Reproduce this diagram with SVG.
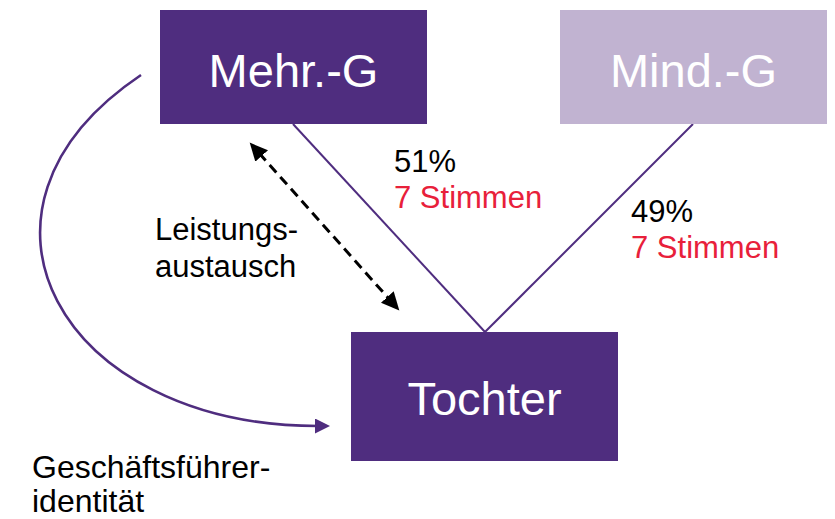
<svg xmlns="http://www.w3.org/2000/svg" width="835" height="519" viewBox="0 0 835 519">
  <style>
    .box { fill: #4F2D7F; }
    .box-light { fill: #C1B3D1; }
    .node-label { font-family: "Liberation Sans", Arial, sans-serif; font-size: 47px; fill: #FFFFFF; text-anchor: middle; }
    .label { font-family: "Liberation Sans", Arial, sans-serif; font-size: 31px; fill: #000000; }
    .votes { fill: #E8203A; }
    .link { stroke: #4F2D7F; stroke-width: 2; fill: none; }
    .flow { stroke: #4F2D7F; stroke-width: 2.6; fill: none; }
    .exchange { stroke: #000000; stroke-width: 3; stroke-dasharray: 10 6; fill: none; }
  </style>
  <defs>
    <marker id="purple-head" markerUnits="userSpaceOnUse" markerWidth="16" markerHeight="16" refX="3" refY="7.5" orient="auto">
      <path d="M0,0 L15,7.5 L0,15 Z" fill="#4F2D7F"/>
    </marker>
    <marker id="black-head" markerUnits="userSpaceOnUse" markerWidth="19" markerHeight="19" refX="4" refY="8.5" orient="auto-start-reverse">
      <path d="M0,0 L18,8.5 L0,17 Z" fill="#000000"/>
    </marker>
  </defs>

  <!-- connectors -->
  <g id="connectors">
    <line class="link" x1="293" y1="124" x2="485" y2="332"/>
    <line class="link" x1="693" y1="124" x2="485" y2="332"/>
    <path class="flow" d="M141,75 C-60,210 60,426 318,426" marker-end="url(#purple-head)"/>
    <line class="exchange" x1="259" y1="153" x2="390" y2="300" marker-start="url(#black-head)" marker-end="url(#black-head)"/>
  </g>

  <!-- majority shareholder -->
  <g id="mehr-g">
    <rect class="box" x="160" y="10" width="267" height="114"/>
    <text class="node-label" x="293.5" y="87">Mehr.-G</text>
  </g>

  <!-- minority shareholder -->
  <g id="mind-g">
    <rect class="box-light" x="560" y="10" width="267" height="114"/>
    <text class="node-label" x="693.5" y="87">Mind.-G</text>
  </g>

  <!-- subsidiary -->
  <g id="tochter">
    <rect class="box" x="351" y="332" width="267" height="129"/>
    <text class="node-label" x="484.5" y="415">Tochter</text>
  </g>

  <!-- share labels -->
  <g id="share-mehr">
    <text class="label" x="394" y="172">51%</text>
    <text class="label votes" x="394" y="208">7 Stimmen</text>
  </g>
  <g id="share-mind">
    <text class="label" x="631" y="222">49%</text>
    <text class="label votes" x="631" y="258">7 Stimmen</text>
  </g>

  <g id="leistungsaustausch">
    <text class="label" x="155" y="240">Leistungs-</text>
    <text class="label" x="155" y="277">austausch</text>
  </g>

  <g id="geschaeftsfuehreridentitaet">
    <text class="label" x="32" y="478" style="font-size:32px">Geschäftsführer-</text>
    <text class="label" x="32" y="512" style="font-size:32px">identität</text>
  </g>
</svg>
